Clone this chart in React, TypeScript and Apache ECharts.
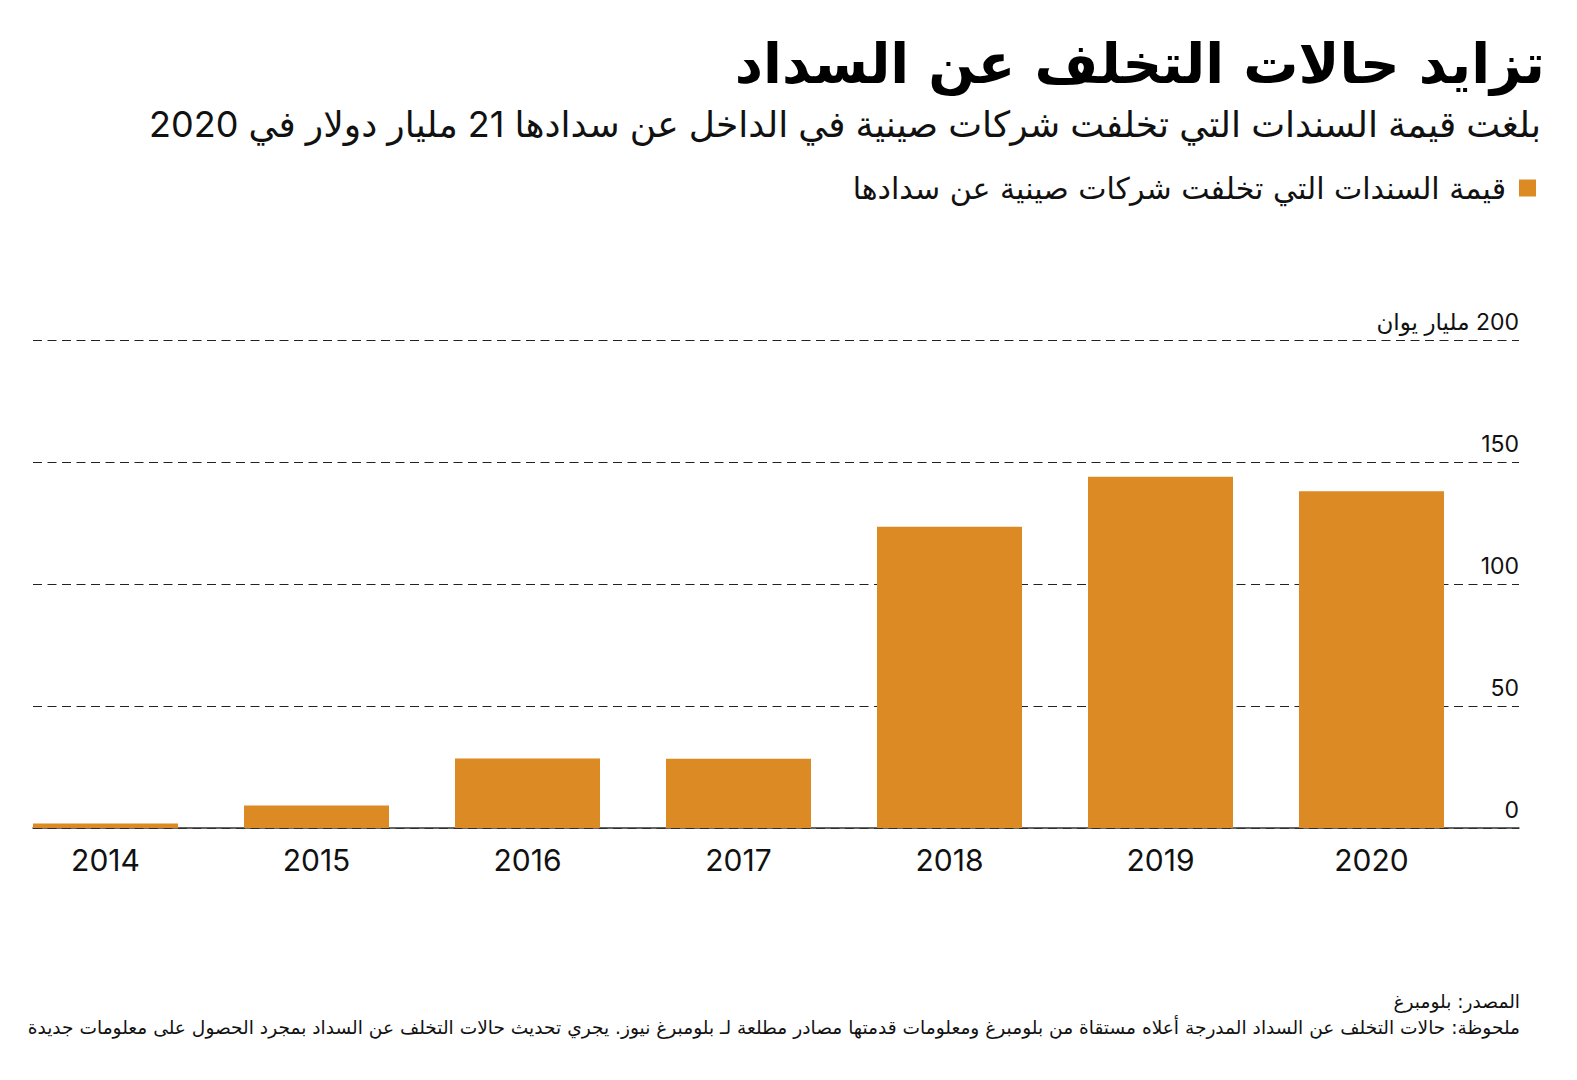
import React, { useEffect, useRef } from "react";
import * as echarts from "echarts";

const years = ["2014", "2015", "2016", "2017", "2018", "2019", "2020"];
const defaultedBonds = [1.8, 9.2, 28.5, 28.4, 123.5, 144, 138];
const yTicks = [0, 50, 100, 150, 200];
const yUnit = "مليار يوان";

const titleText = "تزايد حالات التخلف عن السداد";
const subtitleText = "بلغت قيمة السندات التي تخلفت شركات صينية في الداخل عن سدادها 21 مليار دولار في 2020";
const legendText = "قيمة السندات التي تخلفت شركات صينية عن سدادها";
const sourceText = "المصدر: بلومبرغ";
const noteText = "ملحوظة: حالات التخلف عن السداد المدرجة أعلاه مستقاة من بلومبرغ ومعلومات قدمتها مصادر مطلعة لـ بلومبرغ نيوز. يجري تحديث حالات التخلف عن السداد بمجرد الحصول على معلومات جديدة";

const FONT = "Inter, 'DejaVu Sans', sans-serif";
const ARFONT = "'DejaVu Sans', sans-serif";
const BAR = "#DC8A24";
const INK = "#111111";

export default function App() {
  const ref = useRef<HTMLDivElement>(null);
  useEffect(() => {
    document.body.style.margin = "0";
    const chart = echarts.init(ref.current!, undefined, { renderer: "svg" });
    const yMax = yTicks[yTicks.length - 1];
    const yInt = yTicks[1] - yTicks[0];
    chart.setOption({
      animation: false,
      backgroundColor: "#ffffff",
      legend: {
        data: [legendText],
        right: 36,
        top: 168,
        align: "right",
        icon: "rect",
        itemWidth: 17,
        itemHeight: 17,
        textStyle: { fontFamily: ARFONT, fontSize: 30, color: INK, padding: [0, 8, 0, 0] },
      },
      grid: [
        { left: 105.5, right: 205.5, top: 340, bottom: 252 },
        { left: 33, right: 58, top: 340, bottom: 252 },
      ],
      xAxis: [
        {
          type: "category",
          gridIndex: 0,
          data: years,
          boundaryGap: false,
          axisLine: { show: false },
          axisTick: { show: false },
          axisLabel: { fontFamily: FONT, fontSize: 30, color: INK, margin: 17 },
        },
        {
          type: "value",
          gridIndex: 1,
          min: 0,
          max: 1,
          axisLine: { show: true, lineStyle: { color: "#333333", width: 1.5 } },
          axisTick: { show: false },
          axisLabel: { show: false },
          splitLine: { show: false },
        },
      ],
      yAxis: [
        {
          type: "value",
          gridIndex: 0,
          min: 0,
          max: yMax,
          interval: yInt,
          show: false,
          splitLine: { show: false },
        },
        {
          type: "value",
          gridIndex: 1,
          min: 0,
          max: yMax,
          interval: yInt,
          position: "right",
          axisLine: { show: false },
          axisTick: { show: false },
          axisLabel: {
            inside: true,
            margin: 0,
            align: "right",
            verticalAlign: "bottom",
            padding: [0, 0, 7, 0],
            fontFamily: FONT,
            fontSize: 23,
            color: INK,
            formatter: (v: number) => (v === yMax ? "\u200F" + v + " " + yUnit : String(v)),
          },
          splitLine: { show: true, lineStyle: { color: "#222222", width: 1, type: [9, 5.5] } },
        },
      ],
      series: [
        {
          name: legendText,
          type: "bar",
          xAxisIndex: 0,
          yAxisIndex: 0,
          data: defaultedBonds,
          barWidth: 145,
          clip: false,
          itemStyle: { color: BAR },
          z: 5,
        },
      ],
      graphic: [
        {
          type: "text",
          x: 1545,
          y: 64,
          style: {
            text: titleText,
            textAlign: "right",
            textVerticalAlign: "middle",
            fontFamily: ARFONT,
            fontWeight: "bold",
            fontSize: 55,
            fill: "#000000",
          },
        },
        {
          type: "text",
          x: 1541,
          y: 124,
          style: {
            text: subtitleText,
            textAlign: "right",
            textVerticalAlign: "middle",
            fontFamily: FONT,
            fontSize: 36,
            fill: INK,
          },
        },
        {
          type: "text",
          x: 1520,
          y: 1001,
          style: {
            text: sourceText,
            textAlign: "right",
            textVerticalAlign: "middle",
            fontFamily: ARFONT,
            fontSize: 18.6,
            fill: INK,
          },
        },
        {
          type: "text",
          x: 1520,
          y: 1027,
          style: {
            text: noteText,
            textAlign: "right",
            textVerticalAlign: "middle",
            fontFamily: ARFONT,
            fontSize: 18.6,
            fill: INK,
          },
        },
      ],
    });
    return () => chart.dispose();
  }, []);
  return <div ref={ref} style={{ width: 1577, height: 1080 }} />;
}
